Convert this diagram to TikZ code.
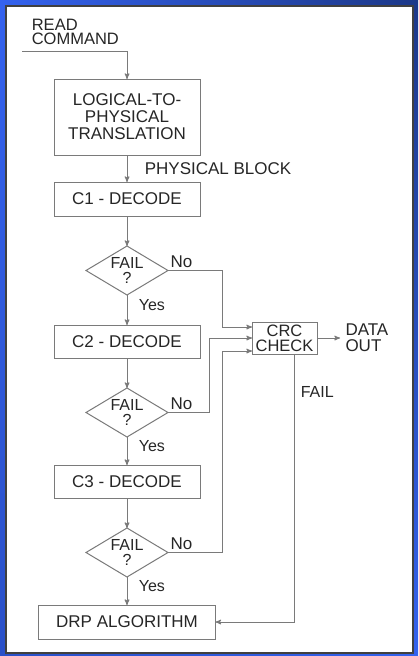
\documentclass[tikz,border=0pt]{standalone}
\usepackage{fontspec}
\setmainfont{Liberation Sans}
\usetikzlibrary{arrows,positioning,shapes.geometric,shadings}
\definecolor{linegray}{HTML}{7A7A7A}
\definecolor{textgray}{HTML}{262626}
\definecolor{frameblue}{HTML}{3462EE}
\definecolor{framenavy}{HTML}{1C3888}
\definecolor{framemid}{HTML}{2A50C8}

\begin{document}
\begin{tikzpicture}[->,>=stealth',x=1pt,y=-1pt,node distance=30pt,
        color=linegray,text=textgray,line width=1pt,
        font=\fontsize{17}{17}\selectfont,
        box/.style={rectangle,draw=linegray,minimum width=146pt,minimum height=34pt,inner sep=0pt,outer sep=0pt,align=center},
        test/.style={diamond,aspect=1.67,draw=linegray,minimum width=82pt,minimum height=49pt,inner sep=0pt,outer sep=0pt,align=center,font=\fontsize{16}{14.5}\selectfont},
        no/.style={above right,inner sep=2pt,pos=0},
        yes/.style={right=8pt,pos=0.32,font=\fontsize{16}{16}\selectfont}]

    \useasboundingbox (0,0) rectangle (418,656);
    \shade[-,upper left=frameblue,lower right=frameblue,upper right=framenavy,lower left=framemid] (0,0) rectangle (418,656);
    \filldraw[-,fill=white,draw=black!75,line width=1.5pt] (6,6) rectangle (413,653);

    \node[align=left,anchor=west,font=\fontsize{16.5}{13.5}\selectfont] (cmd) at (28,32) {READ\\COMMAND};
    \coordinate (cmdin) at (22,51);
    \node[box,minimum height=76pt] (trans) at (127,117) {LOGICAL-TO-\\PHYSICAL\\TRANSLATION};
    \node[box] (cone) [below=27pt of trans] {C1 - DECODE};
    \node[test] (fail1) [below=of cone] {FAIL\\?};
    \node[box,minimum height=33pt] (ctwo) [below=of fail1] {C2 - DECODE};
    \node[test] (fail2) [below=of ctwo] {FAIL\\?};
    \node[box,minimum height=33pt] (cthree) [below=28pt of fail2] {C3 - DECODE};
    \node[test] (fail3) [below=of cthree] {FAIL\\?};
    \node[box,minimum width=177pt] (drp) [below=28pt of fail3] {DRP ALGORITHM};
    \node[box,minimum width=65pt,minimum height=32pt,font=\fontsize{16.5}{15}\selectfont] (crc) at (284.5,338) {CRC\\CHECK};
    \node[align=left,anchor=west,inner sep=5pt,font=\fontsize{17}{16}\selectfont] (out) at (340,338) {DATA\\OUT};

    \draw (cmdin) -| (trans.north);
    \draw (trans) -- node[right=14pt] {PHYSICAL BLOCK} (cone);
    \draw (cone) -- (fail1);
    \draw (fail1) -- node[yes] {Yes} (ctwo);
    \draw (ctwo) -- (fail2);
    \draw (fail2) -- node[yes] {Yes} (cthree);
    \draw (cthree) -- (fail3);
    \draw (fail3) -- node[yes] {Yes} (drp);

    % back to the check
    \draw (fail1.east) -- node[no] {No} ++(54,0) |- ([yshift=11pt]crc.west);
    \draw (fail2.east) -- node[no] {No} ++(41,0) |- (crc.west);
    \draw (fail3.east) -- node[no] {No} ++(54,0) |- ([yshift=-13pt]crc.west);
    \draw (crc) -- (out);
    \draw ([xshift=9.5pt]crc.south) |- node[right=3pt,pos=0.07,font=\fontsize{16}{16}\selectfont] {FAIL} (drp.east);

\end{tikzpicture}
\end{document}
